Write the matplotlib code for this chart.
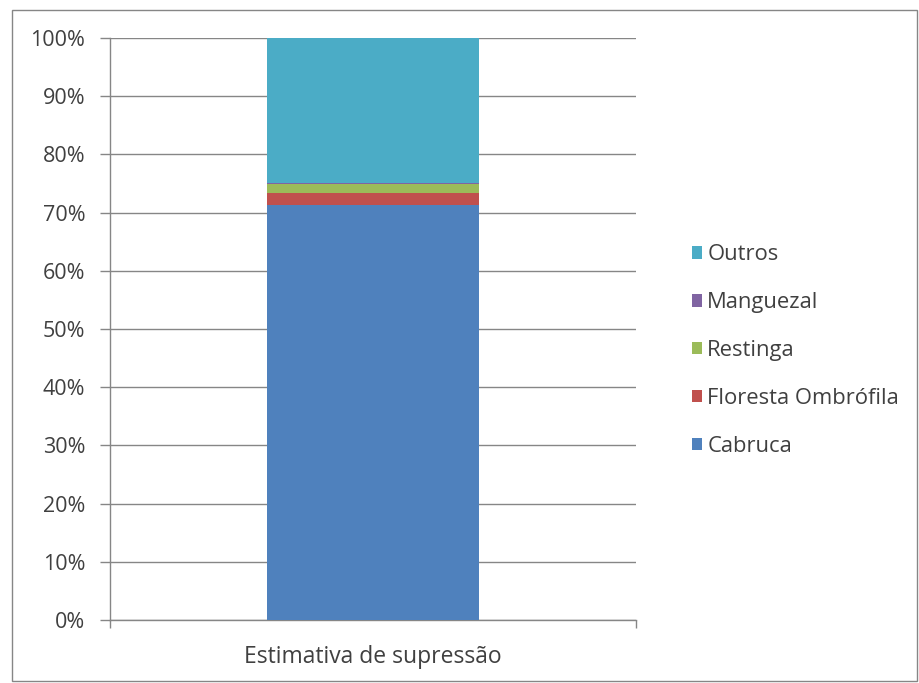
import numpy as np
import matplotlib.pyplot as plt
from matplotlib.patches import Rectangle

plt.rcParams['font.family'] = ['Open Sans', 'DejaVu Sans']

category = ["Estimativa de supressão"]
series = ["Cabruca", "Floresta Ombrófila", "Restinga", "Manguezal", "Outros"]
values = [71.3, 2.1, 1.6, 0.1, 24.9]
colors = ["#4F81BD", "#C0504D", "#9BBB59", "#8064A2", "#4BACC6"]

fig = plt.figure(figsize=(9.2, 6.83), dpi=100)
ax = fig.add_axes([110 / 920, 1 - 620 / 683, 526 / 920, 582 / 683])

total = sum(values)
bottom = 0
handles = []
for name, v, c in zip(series, values, colors):
    h = ax.bar(0, v / total * 100, width=0.403, bottom=bottom, color=c, label=name, zorder=3)
    handles.append(h)
    bottom += v / total * 100

ax.set_xlim(-0.5, 0.5)
ax.set_ylim(0, 100)
ax.set_yticks(np.arange(0, 101, 10))
ax.set_yticklabels([f"{t}%" for t in range(0, 101, 10)], fontsize=15.5, color="#404040")
ax.yaxis.grid(True, color="#868686", linewidth=1, zorder=0)
ax.set_xticks([-0.5, 0.5])
ax.set_xticklabels([])
ax.tick_params(axis="y", length=7.2, color="#868686", width=1, pad=10.5)
ax.tick_params(axis="x", length=6, color="#868686", width=1)
ax.text(0, -0.043, category[0], transform=ax.get_xaxis_transform(), ha="center", va="top",
        fontsize=16.5, color="#404040")

for s in ["top", "right"]:
    ax.spines[s].set_visible(False)
for s in ["left", "bottom"]:
    ax.spines[s].set_color("#868686")
    ax.spines[s].set_linewidth(1)

leg = ax.legend(handles[::-1], series[::-1], loc="center left", bbox_to_anchor=(1.068, 0.463),
                frameon=False, fontsize=15.8, handlelength=0.5, handleheight=0.5,
                handletextpad=0.22, labelspacing=1.22)
for t in leg.get_texts():
    t.set_color("#404040")

fig.patches.append(Rectangle((12 / 920, 2 / 683), 905 / 920, 671 / 683, transform=fig.transFigure,
                             fill=False, edgecolor="#868686", linewidth=1))

fig.savefig("out.png", dpi=100)
